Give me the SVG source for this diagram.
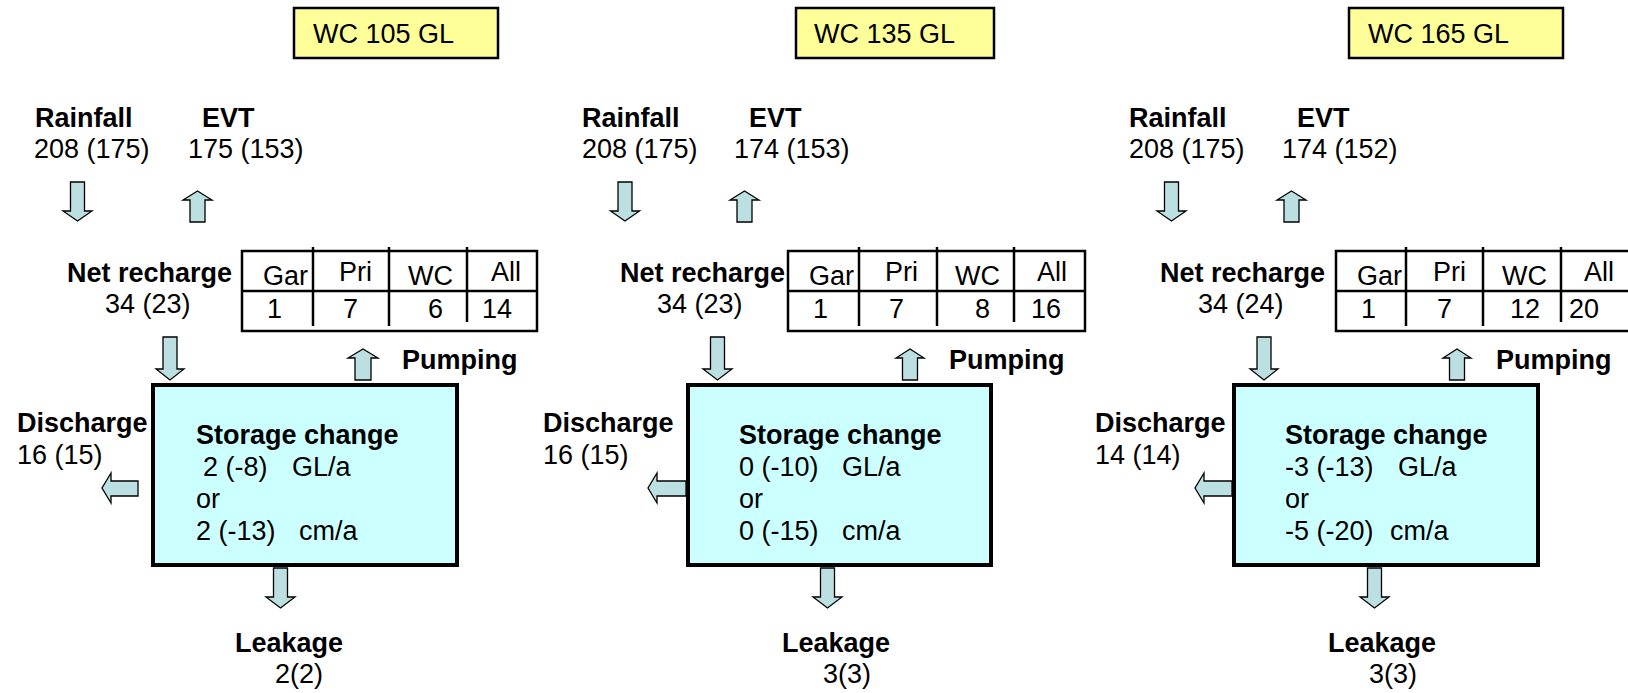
<svg xmlns="http://www.w3.org/2000/svg" width="1628" height="693" viewBox="0 0 1628 693">
<style>
text{font-family:"Liberation Sans",Arial,sans-serif;font-size:27px;fill:#000}
.b{font-weight:bold}
.title{fill:#FFFF99;stroke:#000;stroke-width:2.5}
.store{fill:#CCFFFF;stroke:#000;stroke-width:4}
.tbl{fill:#fff;stroke:#000;stroke-width:2.5}
.ln{stroke:#000;stroke-width:2.5;fill:none}
.arr{fill:#BCDFE1;stroke:#000;stroke-width:1.3;stroke-linejoin:miter}
</style>
<rect width="1628" height="693" fill="#fff"/>

<!-- Panel 1 -->
<g id="panel1">
  <g id="p1-title"><rect class="title" x="294" y="8" width="204" height="50"/><text x="313" y="43">WC 105 GL</text></g>
  <g id="p1-rain"><text class="b" x="35" y="127">Rainfall</text><text x="34" y="158">208 (175)</text></g>
  <g id="p1-evt"><text class="b" x="202" y="127">EVT</text><text x="188" y="158">175 (153)</text></g>
  <g id="p1-net"><text class="b" x="67" y="282">Net recharge</text><text x="105" y="313">34 (23)</text></g>
  <g id="p1-table">
    <rect class="tbl" x="242" y="251" width="295" height="80"/>
    <line class="ln" x1="242" y1="291" x2="537" y2="291"/>
    <line class="ln" x1="313" y1="247" x2="313" y2="326"/>
    <line class="ln" x1="389" y1="247" x2="389" y2="326"/>
    <line class="ln" x1="467" y1="247" x2="467" y2="322"/>
    <text x="263" y="285">Gar</text><text x="339" y="281">Pri</text><text x="408" y="285">WC</text><text x="491" y="281">All</text>
    <text x="267" y="318">1</text><text x="343" y="318">7</text><text x="428" y="318">6</text><text x="482" y="318">14</text>
  </g>
  <g id="p1-pump"><text class="b" x="402" y="369">Pumping</text></g>
  <g id="p1-storage">
    <rect class="store" x="153" y="385" width="304" height="180"/>
    <text class="b" x="196" y="444">Storage change</text>
    <text y="476"><tspan x="203">2 (-8)</tspan><tspan x="292">GL/a</tspan></text>
    <text x="196" y="508">or</text>
    <text y="540"><tspan x="196">2 (-13)</tspan><tspan x="299">cm/a</tspan></text>
  </g>
  <g id="p1-discharge"><text class="b" x="17" y="432">Discharge</text><text x="17" y="464">16 (15)</text></g>
  <g id="p1-leak"><text class="b" x="235" y="652">Leakage</text><text x="275" y="683">2(2)</text></g>
</g>

<!-- Panel 2 -->
<g id="panel2">
  <g id="p2-title"><rect class="title" x="796" y="8" width="198" height="50"/><text x="814" y="43">WC 135 GL</text></g>
  <g id="p2-rain"><text class="b" x="582" y="127">Rainfall</text><text x="582" y="158">208 (175)</text></g>
  <g id="p2-evt"><text class="b" x="749" y="127">EVT</text><text x="734" y="158">174 (153)</text></g>
  <g id="p2-net"><text class="b" x="620" y="282">Net recharge</text><text x="657" y="313">34 (23)</text></g>
  <g id="p2-table">
    <rect class="tbl" x="788" y="251" width="297" height="80"/>
    <line class="ln" x1="788" y1="291" x2="1085" y2="291"/>
    <line class="ln" x1="859" y1="247" x2="859" y2="326"/>
    <line class="ln" x1="937" y1="247" x2="937" y2="326"/>
    <line class="ln" x1="1014" y1="247" x2="1014" y2="322"/>
    <text x="809" y="285">Gar</text><text x="885" y="281">Pri</text><text x="955" y="285">WC</text><text x="1037" y="281">All</text>
    <text x="813" y="318">1</text><text x="889" y="318">7</text><text x="975" y="318">8</text><text x="1031" y="318">16</text>
  </g>
  <g id="p2-pump"><text class="b" x="949" y="369">Pumping</text></g>
  <g id="p2-storage">
    <rect class="store" x="688" y="385" width="303" height="180"/>
    <text class="b" x="739" y="444">Storage change</text>
    <text y="476"><tspan x="739">0 (-10)</tspan><tspan x="842">GL/a</tspan></text>
    <text x="739" y="508">or</text>
    <text y="540"><tspan x="739">0 (-15)</tspan><tspan x="842">cm/a</tspan></text>
  </g>
  <g id="p2-discharge"><text class="b" x="543" y="432">Discharge</text><text x="543" y="464">16 (15)</text></g>
  <g id="p2-leak"><text class="b" x="782" y="652">Leakage</text><text x="823" y="683">3(3)</text></g>
</g>

<!-- Panel 3 -->
<g id="panel3">
  <g id="p3-title"><rect class="title" x="1349" y="8" width="214" height="50"/><text x="1368" y="43">WC 165 GL</text></g>
  <g id="p3-rain"><text class="b" x="1129" y="127">Rainfall</text><text x="1129" y="158">208 (175)</text></g>
  <g id="p3-evt"><text class="b" x="1297" y="127">EVT</text><text x="1282" y="158">174 (152)</text></g>
  <g id="p3-net"><text class="b" x="1160" y="282">Net recharge</text><text x="1198" y="313">34 (24)</text></g>
  <g id="p3-table">
    <rect class="tbl" x="1336" y="251" width="297" height="80"/>
    <line class="ln" x1="1336" y1="291" x2="1633" y2="291"/>
    <line class="ln" x1="1406" y1="247" x2="1406" y2="326"/>
    <line class="ln" x1="1483" y1="247" x2="1483" y2="326"/>
    <line class="ln" x1="1561" y1="247" x2="1561" y2="322"/>
    <text x="1357" y="285">Gar</text><text x="1433" y="281">Pri</text><text x="1502" y="285">WC</text><text x="1584" y="281">All</text>
    <text x="1361" y="318">1</text><text x="1437" y="318">7</text><text x="1510" y="318">12</text><text x="1569" y="318">20</text>
  </g>
  <g id="p3-pump"><text class="b" x="1496" y="369">Pumping</text></g>
  <g id="p3-storage">
    <rect class="store" x="1234" y="385" width="304" height="180"/>
    <text class="b" x="1285" y="444">Storage change</text>
    <text y="476"><tspan x="1285">-3 (-13)</tspan><tspan x="1398">GL/a</tspan></text>
    <text x="1285" y="508">or</text>
    <text y="540"><tspan x="1285">-5 (-20)</tspan><tspan x="1390">cm/a</tspan></text>
  </g>
  <g id="p3-discharge"><text class="b" x="1095" y="432">Discharge</text><text x="1095" y="464">14 (14)</text></g>
  <g id="p3-leak"><text class="b" x="1328" y="652">Leakage</text><text x="1369" y="683">3(3)</text></g>
</g>

<!-- Connectors (block arrows) -->
<g id="connectors">
  <!-- Panel 1 -->
  <path class="arr" d="M70.5,182 H84.5 V211 H92 L77.5,221 L63,211 H70.5 Z"/>
  <path class="arr" d="M190,222 V200 H183 L197.5,191 L212,200 H205 V222 Z"/>
  <path class="arr" d="M163,337 H177 V369 H184 L170,380 L156,369 H163 Z"/>
  <path class="arr" d="M355,380 V358 H348 L363,349 L378,358 H371 V380 Z"/>
  <path class="arr" d="M138,481 V496 H111 V503 L102,488 L111,473 V481 Z"/>
  <path class="arr" d="M273.5,568 H287.5 V597 H295 L280.5,608 L266,597 H273.5 Z"/>
  <!-- Panel 2 -->
  <path class="arr" d="M618,182 H632 V211 H639.5 L625,221 L610.5,211 H618 Z"/>
  <path class="arr" d="M737,222 V200 H730 L744.5,191 L759,200 H752 V222 Z"/>
  <path class="arr" d="M710.5,337 H724.5 V369 H732 L717.5,380 L703,369 H710.5 Z"/>
  <path class="arr" d="M902.5,380 V358 H896 L910,349 L924,358 H917.5 V380 Z"/>
  <path class="arr" d="M686,481 V496 H657 V503 L648,488 L657,473 V481 Z"/>
  <path class="arr" d="M820.5,568 H834.5 V597 H842 L827.5,608 L813,597 H820.5 Z"/>
  <!-- Panel 3 -->
  <path class="arr" d="M1164.5,182 H1178.5 V211 H1186 L1171.5,221 L1157,211 H1164.5 Z"/>
  <path class="arr" d="M1284,222 V200 H1277 L1291.5,191 L1306,200 H1299 V222 Z"/>
  <path class="arr" d="M1257,337 H1271 V369 H1278 L1264,380 L1250,369 H1257 Z"/>
  <path class="arr" d="M1449.5,380 V358 H1443 L1457,349 L1471,358 H1464.5 V380 Z"/>
  <path class="arr" d="M1232,481 V496 H1204 V503 L1195,488 L1204,473 V481 Z"/>
  <path class="arr" d="M1367.5,568 H1381.5 V597 H1389 L1374.5,608 L1360,597 H1367.5 Z"/>
</g>
</svg>
